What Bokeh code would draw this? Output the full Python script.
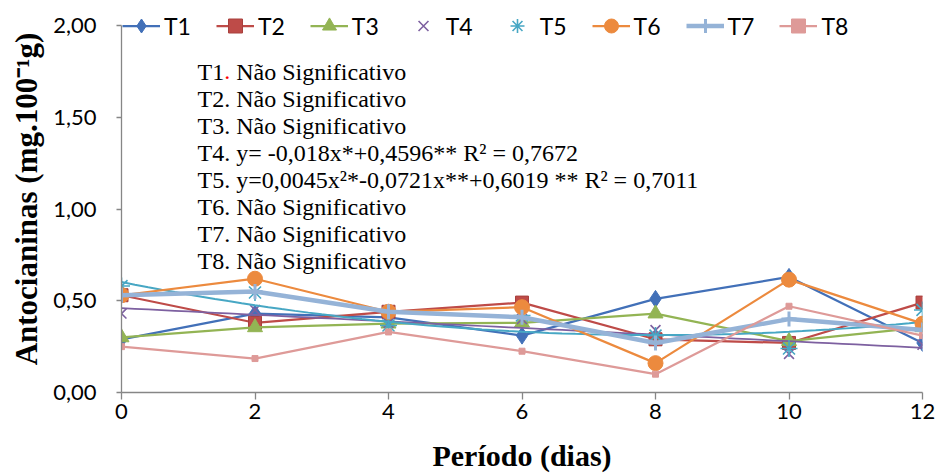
import numpy as np
from bokeh.plotting import figure
from bokeh.models import (Range1d, FixedTicker, CustomJSTickFormatter, Legend,
                          LegendItem, Label, Title)
from bokeh.embed import file_html
from bokeh.resources import INLINE

# ---------------- data ----------------
dias = [0, 2, 4, 6, 8, 10, 12]
T1 = [0.29, 0.43, 0.41, 0.31, 0.51, 0.63, 0.27]
T2 = [0.53, 0.38, 0.44, 0.49, 0.29, 0.27, 0.49]
T3 = [0.30, 0.355, 0.375, 0.38, 0.43, 0.28, 0.355]
T4 = [0.43, 0.45, 0.38, 0.40, 0.34, 0.21, 0.26]
T5 = [0.58, 0.545, 0.365, 0.42, 0.31, 0.24, 0.45]
T6 = [0.53, 0.62, 0.44, 0.465, 0.16, 0.615, 0.375]
T7 = [0.53, 0.55, 0.44, 0.41, 0.27, 0.40, 0.34]
T8 = [0.25, 0.185, 0.33, 0.225, 0.10, 0.47, 0.31]
y_ticks = [0, 0.5, 1.0, 1.5, 2.0]
# trendline coefficients printed on the chart
T4_coef = [-0.018, 0.4596]
T5_coef = [0.0045, -0.0721, 0.6019]
notes = [
    "T1. Não Significativo",
    "T2. Não Significativo",
    "T3. Não Significativo",
    "T4. y= -0,018x*+0,4596** R² = 0,7672",
    "T5. y=0,0045x²*-0,0721x**+0,6019 ** R² = 0,7011",
    "T6. Não Significativo",
    "T7. Não Significativo",
    "T8. Não Significativo",
]
x_title = "Período (dias)"
y_title = "Antocianinas (mg.100⁻¹g)"

# ---------------- geometry ----------------
W, H = 936, 475
L, R, B = 121, 14, 83
TOP = 5                  # frame top (room for the legend)
Y0PX, Y2PX = 392, 25     # pixel rows of 0,00 and 2,00
FW = W - L - R
FH = H - TOP - B
y_end = 2.0 * FH / (Y0PX - Y2PX)

p = figure(width=W, height=H, output_backend="svg", toolbar_location=None,
           x_range=Range1d(0, 12), y_range=Range1d(0, y_end),
           min_border_left=L, min_border_right=R, min_border_top=TOP,
           min_border_bottom=B, background_fill_color="white",
           border_fill_color="white")
p.outline_line_color = None
p.xgrid.visible = False
p.ygrid.visible = False

axis_col = "#868686"
for ax in (p.xaxis[0], p.yaxis[0]):
    ax.axis_line_color = axis_col
    ax.axis_line_width = 1.3
    ax.major_tick_line_color = axis_col
    ax.major_tick_line_width = 1.3
    ax.minor_tick_line_color = None
    ax.major_tick_in = 0
    ax.major_label_text_font = "Lato"
    ax.major_label_text_font_size = "22px"
    ax.major_label_text_color = "black"
    ax.axis_label_text_font = "Liberation Serif"
    ax.axis_label_text_font_style = "bold"
    ax.axis_label_text_font_size = "30px"
    ax.axis_label_text_color = "black"

p.yaxis.bounds = (0, 2)
p.xaxis.ticker = FixedTicker(ticks=dias)
p.yaxis.ticker = FixedTicker(ticks=y_ticks)
p.yaxis.formatter = CustomJSTickFormatter(code="return tick.toFixed(2).replace('.', ',');")
p.xaxis.major_tick_out = 7
p.yaxis.major_tick_out = 5
p.xaxis.major_label_standoff = 4
p.yaxis.major_label_standoff = 20
p.xaxis.axis_label = x_title
p.xaxis.axis_label_standoff = 17

# y title as a side Title so it can be centred on the 0-2 span
ytitle = Title(text=y_title, align="center", offset=-23, standoff=13,
               text_font="Liberation Serif", text_font_style="bold",
               text_font_size="31px", text_color="black")
p.add_layout(ytitle, "left")

c1, c2, c3, c4 = "#4270B8", "#BE4B48", "#93B454", "#7D60A0"
c5, c6, c7, c8 = "#47A7C4", "#EC8A3E", "#95B3D7", "#DE9A98"

items = []

r = p.line(dias, T1, line_color=c1, line_width=2.25)
m = p.scatter(dias, T1, marker="diamond", size=17, fill_color=c1, line_color=c1)
items.append(LegendItem(label="T1", renderers=[r, m]))

r = p.line(dias, T2, line_color=c2, line_width=2.25)
m = p.scatter(dias, T2, marker="square", size=13, fill_color=c2, line_color="#A8403D")
items.append(LegendItem(label="T2", renderers=[r, m]))

r = p.line(dias, T3, line_color=c3, line_width=2.25)
m = p.scatter(dias, T3, marker="triangle", size=15, fill_color=c3, line_color=c3)
items.append(LegendItem(label="T3", renderers=[r, m]))

xs = np.linspace(0, 12, 61)
p.line(xs, np.polyval(T4_coef, xs), line_color=c4, line_width=1.75)
m = p.scatter(dias, T4, marker="x", size=14, line_color=c4, line_width=1.6)
items.append(LegendItem(label="T4", renderers=[m]))

p.line(xs, np.polyval(T5_coef, xs), line_color=c5, line_width=2)
m = p.scatter(dias, T5, marker="asterisk", size=17, line_color=c5, line_width=1.6)
items.append(LegendItem(label="T5", renderers=[m]))

r = p.line(dias, T6, line_color=c6, line_width=2.25)
m = p.scatter(dias, T6, marker="circle", size=15, fill_color=c6, line_color=c6)
items.append(LegendItem(label="T6", renderers=[r, m]))

r = p.line(dias, T7, line_color=c7, line_width=4.5)
m = p.scatter(dias, T7, marker="cross", size=15, line_color=c7, line_width=3)
items.append(LegendItem(label="T7", renderers=[r, m]))

r = p.line(dias, T8, line_color=c8, line_width=2.25)
m = p.scatter(dias, T8, marker="square", size=6, fill_color=c8, line_color=c8)
items.append(LegendItem(label="T8", renderers=[r, m]))

legend = Legend(items=items, orientation="horizontal", location=(1, 349),
                border_line_color=None, background_fill_alpha=0,
                padding=0, margin=0, spacing=25, glyph_width=38,
                glyph_height=35, label_standoff=4, label_text_font="Lato",
                label_text_font_size="23px", label_text_color="black")
p.add_layout(legend, "center")

# ---------------- annotation block ----------------
def dx(px):
    return (px - L) / FW * 12

def dy(py):
    return (Y0PX - py) / (Y0PX - Y2PX) * 2

fs = 24
x0 = 197
for i, txt in enumerate(notes):
    yy = dy(71 + 27.14 * i)
    common = dict(y=yy, text_font="Liberation Serif", text_font_size=f"{fs}px",
                  text_baseline="middle", text_color="black")
    if i == 0:
        p.add_layout(Label(x=dx(x0), text="T1", **common))
        common["text_color"] = "red"
        p.add_layout(Label(x=dx(x0 + 1.111 * fs), text=".", **common))
        common["text_color"] = "black"
        p.add_layout(Label(x=dx(x0 + 1.611 * fs), text=txt[4:], **common))
    else:
        p.add_layout(Label(x=dx(x0), text=txt, **common))

open("out.html", "w").write(file_html(p, INLINE))
